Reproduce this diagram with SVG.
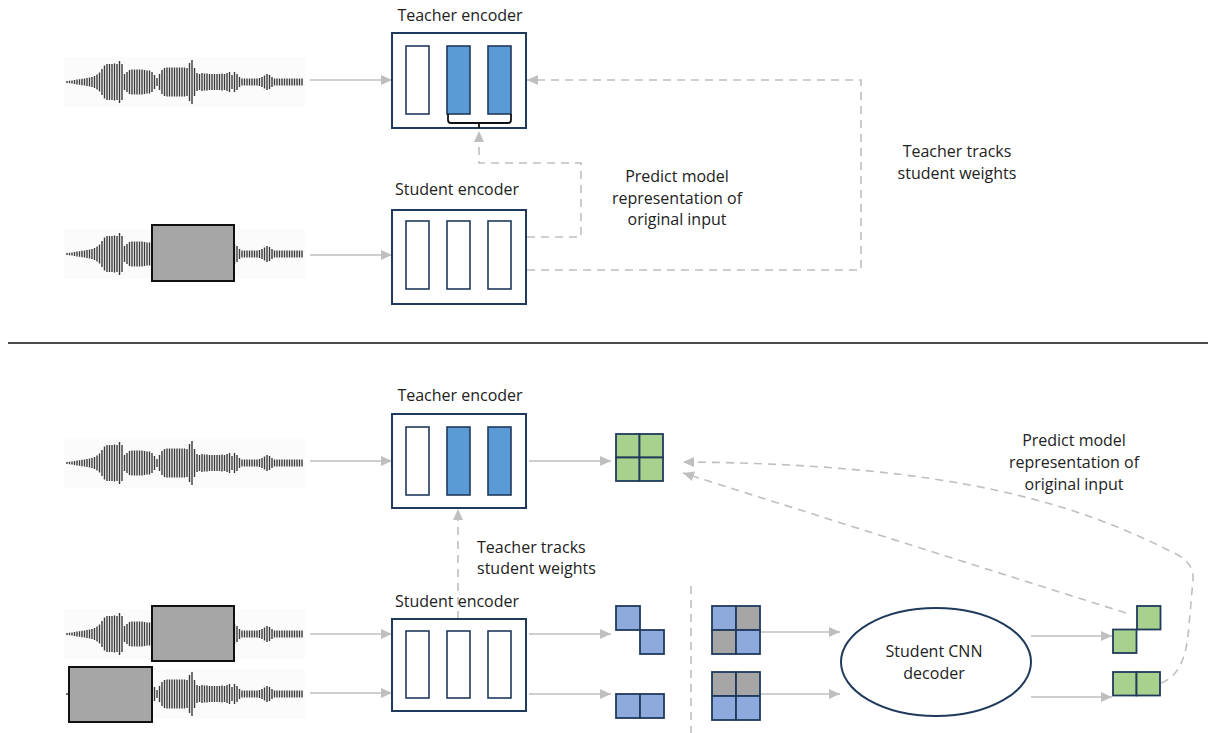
<svg xmlns="http://www.w3.org/2000/svg" width="1208" height="733" viewBox="0 0 1208 733">
<style>
text{font-family:"Open Sans","Liberation Sans",sans-serif;font-size:16px;fill:#222}
.c{text-anchor:middle}
.box{fill:#fff;stroke:#203a5c;stroke-width:2}
.bar{fill:#fff;stroke:#203a5c;stroke-width:1.6}
.bar.f{fill:#5b9bd5}
.cell{stroke:#203a5c;stroke-width:1.8}
.bl{fill:#8eaadc}.gr{fill:#a9d18e}.gy{fill:#a6a6a6}
.arr{fill:none;stroke:#bfbfbf;stroke-width:1.6;marker-end:url(#ah)}
.dash{fill:none;stroke:#bfbfbf;stroke-width:1.6;stroke-dasharray:8 6}
.dasha{fill:none;stroke:#bfbfbf;stroke-width:1.6;stroke-dasharray:8 6;marker-end:url(#ah)}
.mask{fill:#a6a6a6;stroke:#111;stroke-width:2}
</style>
<defs>
<marker id="ah" markerUnits="userSpaceOnUse" markerWidth="12" markerHeight="10" refX="11" refY="5" orient="auto"><path d="M0,0 L11,5 L0,10 z" fill="#bfbfbf"/></marker>
<g id="wave">
<rect x="64" y="-25" width="241" height="50" fill="#fbfbfb"/>
<path fill="none" stroke="#3a3a3a" stroke-width="1.4" d="M67 -1V1M69.5 -1.3V1.3M72 -1.6V1.6M74.5 -2V2M77 -2.4V2.4M79.5 -2.8V2.8M82 -3.2V3.2M84.5 -3.6V3.6M87 -4V4M89.5 -4.5V4.5M92 -5V5M94.5 -6V6M97 -7.5V7.5M99.5 -9.5V9.5M102 -13V13M104.5 -16.5V16.5M107 -18V18M109.5 -18V18M112 -18V18M114.5 -18.5V18.5M117 -18V18M119.5 -21V21M122 -18V18M124.5 -8V8M127 -10V10M129.5 -12V12M132 -12.5V12.5M134.5 -12.5V12.5M137 -12.5V12.5M139.5 -12.5V12.5M142 -12.5V12.5M144.5 -12V12M147 -11.5V11.5M149.5 -11.5V11.5M152 -10V10M154.5 -7V7M157 -4V4M159.5 -8V8M162 -12V12M164.5 -14V14M167 -14.5V14.5M169.5 -14.5V14.5M172 -14.5V14.5M174.5 -14.5V14.5M177 -14.5V14.5M179.5 -14.5V14.5M182 -14.5V14.5M184.5 -14.5V14.5M187 -14V14M189.5 -19V19M192 -22V22M194.5 -14V14M197 -9V9M199.5 -8V8M202 -9V9M204.5 -8.5V8.5M207 -8.5V8.5M209.5 -8V8M212 -8V8M214.5 -8V8M217 -8V8M219.5 -8V8M222 -8.5V8.5M224.5 -8V8M227 -9V9M229.5 -10V10M232 -7V7M234.5 -10V10M237 -8V8M239.5 -5V5M242 -3.5V3.5M244.5 -3.5V3.5M247 -3.5V3.5M249.5 -3.5V3.5M252 -3.5V3.5M254.5 -3.5V3.5M257 -3.5V3.5M259.5 -4V4M262 -5V5M264.5 -6.5V6.5M267 -8V8M269.5 -7V7M272 -5V5M274.5 -3.5V3.5M277 -3.5V3.5M279.5 -3.5V3.5M282 -3.5V3.5M284.5 -3.5V3.5M287 -3.5V3.5M289.5 -3.5V3.5M292 -3.5V3.5M294.5 -3.5V3.5M297 -3.5V3.5M299.5 -3.5V3.5M302 -3.5V3.5"/>
</g>
</defs>
<rect width="1208" height="733" fill="#fff"/>

<!-- inputs -->
<g id="wave-top-teacher"><use href="#wave" transform="translate(0,82)"/></g>
<g id="wave-top-student"><use href="#wave" transform="translate(0,254)"/><rect class="mask" x="152" y="225" width="82" height="56"/></g>
<g id="wave-bot-teacher"><use href="#wave" transform="translate(0,463)"/></g>
<g id="wave-bot-student1"><use href="#wave" transform="translate(0,634)"/><rect class="mask" x="152" y="606" width="82" height="55"/></g>
<g id="wave-bot-student2"><use href="#wave" transform="translate(0,694)"/><rect class="mask" x="69" y="667" width="83" height="55"/></g>

<line x1="8" y1="343" x2="1208" y2="343" stroke="#111" stroke-width="1.5"/>

<!-- connectors -->
<g id="connectors">
<path class="arr" d="M310,80 H392"/>
<path class="arr" d="M310,255 H392"/>
<path class="dasha" d="M527,237 H581 V163 H479 V131"/>
<path class="dasha" d="M527,270 H861 V80 H527"/>
<path class="arr" d="M310,461 H392"/>
<path class="arr" d="M310,634 H392"/>
<path class="arr" d="M310,693 H392"/>
<path class="arr" d="M529,461 H611"/>
<path class="arr" d="M529,634 H611"/>
<path class="arr" d="M529,694 H611"/>
<path class="dasha" d="M458,619 V509"/>
<path class="dash" d="M691,586 V733"/>
<path class="arr" d="M760,632 H840"/>
<path class="arr" d="M760,694 H840"/>
<path class="arr" d="M1031,636 H1112"/>
<path class="arr" d="M1031,697 H1112"/>
<path class="dasha" d="M1126,613 L683,473"/>
<path class="dasha" d="M1161,683 C1180,676 1187,655 1189,625 L1193,580 C1194,566 1186,558 1170,551 C1080,506 960,464 683,462"/>
</g>

<!-- top teacher encoder -->
<g id="teacher-top">
<text class="c" x="460" y="21">Teacher encoder</text>
<rect class="box" x="392" y="33" width="134" height="95"/>
<rect class="bar" x="406" y="46" width="23" height="68"/>
<rect class="bar f" x="447" y="46" width="23" height="68"/>
<rect class="bar f" x="488" y="46" width="23" height="68"/>
<path d="M448,114 V120 Q448,123 451,123 H508 Q511,123 511,120 V114 M479,123 V128" fill="none" stroke="#111" stroke-width="1.8"/>
</g>

<!-- top student encoder -->
<g id="student-top">
<text class="c" x="457" y="195">Student encoder</text>
<rect class="box" x="392" y="210" width="134" height="94"/>
<rect class="bar" x="406" y="221" width="23" height="68"/>
<rect class="bar" x="447" y="221" width="23" height="68"/>
<rect class="bar" x="488" y="221" width="23" height="68"/>
</g>

<g id="label-top-predict">
<text class="c" x="677" y="182">Predict model</text>
<text class="c" x="677" y="204">representation of</text>
<text class="c" x="677" y="225">original input</text>
</g>
<g id="label-top-tracks">
<text class="c" x="957" y="157">Teacher tracks</text>
<text class="c" x="957" y="179">student weights</text>
</g>

<!-- bottom teacher encoder -->
<g id="teacher-bot">
<text class="c" x="460" y="401">Teacher encoder</text>
<rect class="box" x="392" y="414" width="134" height="94"/>
<rect class="bar" x="406" y="427" width="23" height="68"/>
<rect class="bar f" x="447" y="427" width="23" height="68"/>
<rect class="bar f" x="488" y="427" width="23" height="68"/>
</g>

<g id="label-bot-tracks">
<text x="477" y="553">Teacher tracks</text>
<text x="477" y="574">student weights</text>
</g>

<!-- bottom student encoder -->
<g id="student-bot">
<text class="c" x="457" y="607">Student encoder</text>
<rect class="box" x="392" y="619" width="134" height="92"/>
<rect class="bar" x="406" y="631" width="23" height="67"/>
<rect class="bar" x="447" y="631" width="23" height="67"/>
<rect class="bar" x="488" y="631" width="23" height="67"/>
</g>

<!-- target representation -->
<g id="target-green">
<rect class="cell gr" x="616" y="434" width="23.5" height="23.5"/>
<rect class="cell gr" x="639.5" y="434" width="23.5" height="23.5"/>
<rect class="cell gr" x="616" y="457.5" width="23.5" height="23.5"/>
<rect class="cell gr" x="639.5" y="457.5" width="23.5" height="23.5"/>
</g>

<g id="student-out-1">
<rect class="cell bl" x="616" y="606" width="24" height="24"/>
<rect class="cell bl" x="640" y="630" width="24" height="24"/>
</g>
<g id="student-out-2">
<rect class="cell bl" x="616" y="694" width="24" height="24"/>
<rect class="cell bl" x="640" y="694" width="24" height="24"/>
</g>

<g id="masked-grid-1">
<rect class="cell bl" x="712" y="606" width="24" height="24"/>
<rect class="cell gy" x="736" y="606" width="24" height="24"/>
<rect class="cell gy" x="712" y="630" width="24" height="24"/>
<rect class="cell bl" x="736" y="630" width="24" height="24"/>
</g>
<g id="masked-grid-2">
<rect class="cell gy" x="712" y="672" width="24" height="24"/>
<rect class="cell gy" x="736" y="672" width="24" height="24"/>
<rect class="cell bl" x="712" y="696" width="24" height="24"/>
<rect class="cell bl" x="736" y="696" width="24" height="24"/>
</g>

<g id="decoder">
<ellipse cx="936" cy="662" rx="95" ry="54" fill="#fff" stroke="#203a5c" stroke-width="2"/>
<text class="c" x="934" y="657">Student CNN</text>
<text class="c" x="934" y="679">decoder</text>
</g>

<g id="pred-out-1">
<rect class="cell gr" x="1137" y="606" width="23.5" height="23.5"/>
<rect class="cell gr" x="1113" y="629.5" width="23.5" height="23.5"/>
</g>
<g id="pred-out-2">
<rect class="cell gr" x="1113" y="672" width="23.5" height="23.5"/>
<rect class="cell gr" x="1136.5" y="672" width="23.5" height="23.5"/>
</g>

<g id="label-bot-predict">
<text class="c" x="1074" y="446">Predict model</text>
<text class="c" x="1074" y="468">representation of</text>
<text class="c" x="1074" y="490">original input</text>
</g>
</svg>
